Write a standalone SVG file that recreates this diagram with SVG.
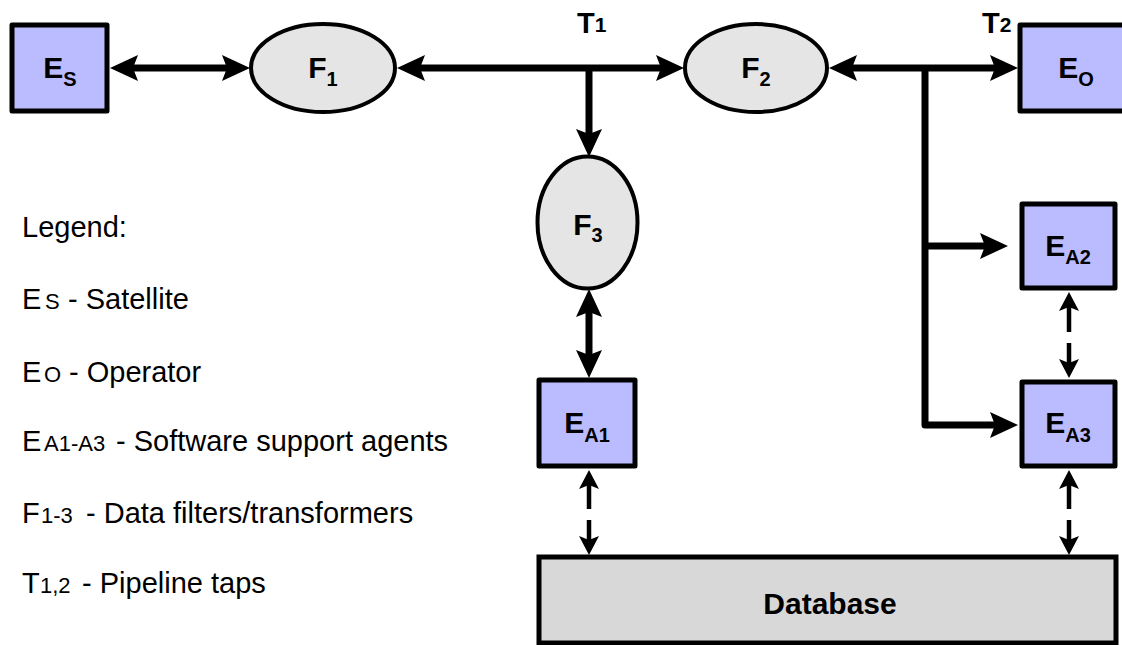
<svg xmlns="http://www.w3.org/2000/svg" width="1122" height="645" viewBox="0 0 1122 645">
<style>
.box{fill:#BBBBFF;stroke:#000;stroke-width:5;stroke-linejoin:round}
.flt{fill:#E5E5E5;stroke:#000;stroke-width:4}
.db{fill:#D8D8D8;stroke:#000;stroke-width:5}
.nl{font-family:"Liberation Sans",Arial,sans-serif;font-weight:bold;font-size:30px;fill:#000;text-anchor:middle}
.sub{font-size:20px}
.tl{font-family:"Liberation Sans",Arial,sans-serif;font-weight:bold;font-size:29px;fill:#000}
.lg{font-family:"Liberation Sans",Arial,sans-serif;font-size:29px;fill:#000}
.lgs{font-family:"Liberation Sans",Arial,sans-serif;font-size:22px;fill:#000}
.thick{fill:none;stroke:#000;stroke-width:7;stroke-linejoin:round}
.thin{fill:none;stroke:#000;stroke-width:4.5}
</style>
<defs>
<marker id="ah" markerUnits="userSpaceOnUse" viewBox="-16 -16 36 32" markerWidth="36" markerHeight="32" refX="0" refY="0" orient="auto-start-reverse">
<path d="M-13,-13 L15,0 L-13,13 L-8,0 z" fill="#000"/>
</marker>
<marker id="as" markerUnits="userSpaceOnUse" viewBox="-12 -12 26 24" markerWidth="26" markerHeight="24" refX="0" refY="0" orient="auto-start-reverse">
<path d="M-9,-10 L10,0 L-9,10 L-5,0 z" fill="#000"/>
</marker>
</defs>

<g id="connectors">
<line class="thick" x1="125" y1="68" x2="235" y2="68" marker-start="url(#ah)" marker-end="url(#ah)"/>
<line class="thick" x1="412" y1="68" x2="669" y2="68" marker-start="url(#ah)" marker-end="url(#ah)"/>
<line class="thick" x1="844" y1="68" x2="1003" y2="68" marker-start="url(#ah)" marker-end="url(#ah)"/>
<line class="thick" x1="589" y1="68" x2="589" y2="142" marker-end="url(#ah)"/>
<line class="thick" x1="589" y1="304" x2="589" y2="363" marker-start="url(#ah)" marker-end="url(#ah)"/>
<path class="thick" d="M925,68 V425 H1003" marker-end="url(#ah)"/>
<path class="thick" d="M925,246 H993" marker-end="url(#ah)"/>
<path class="thin" d="M1069,302 V332 M1069,343 V368" marker-start="url(#as)" marker-end="url(#as)"/>
<path class="thin" d="M589,480 V509 M589,520 V545" marker-start="url(#as)" marker-end="url(#as)"/>
<path class="thin" d="M1069,480 V509 M1069,520 V545" marker-start="url(#as)" marker-end="url(#as)"/>
</g>

<g id="taps">
<text class="tl" x="577" y="33">T<tspan font-size="21" dy="-1">1</tspan></text>
<text class="tl" x="982" y="33">T<tspan font-size="21" dy="-1">2</tspan></text>
</g>

<g id="ES">
<rect class="box" x="12" y="25" width="95" height="86"/>
<text class="nl" x="60" y="78">E<tspan class="sub" dy="8">S</tspan></text>
</g>
<g id="F1">
<ellipse class="flt" cx="323" cy="68" rx="72" ry="44"/>
<text class="nl" x="323" y="78">F<tspan class="sub" dy="8">1</tspan></text>
</g>
<g id="F2">
<ellipse class="flt" cx="756" cy="68" rx="71" ry="44"/>
<text class="nl" x="756" y="78">F<tspan class="sub" dy="8">2</tspan></text>
</g>
<g id="EO">
<rect class="box" x="1020" y="25" width="110" height="86"/>
<text class="nl" x="1076" y="78">E<tspan class="sub" dy="8">O</tspan></text>
</g>
<g id="F3">
<ellipse class="flt" cx="587.5" cy="222.5" rx="50" ry="66"/>
<text class="nl" x="588" y="235">F<tspan class="sub" dy="7">3</tspan></text>
</g>
<g id="EA1">
<rect class="box" x="539" y="380" width="96" height="86"/>
<text class="nl" x="587" y="433">E<tspan class="sub" dy="9">A1</tspan></text>
</g>
<g id="EA2">
<rect class="box" x="1022" y="204" width="93" height="84"/>
<text class="nl" x="1068" y="256">E<tspan class="sub" dy="8">A2</tspan></text>
</g>
<g id="EA3">
<rect class="box" x="1022" y="382" width="93" height="84"/>
<text class="nl" x="1068" y="433">E<tspan class="sub" dy="9">A3</tspan></text>
</g>
<g id="Database">
<rect class="db" x="539" y="557" width="577" height="86"/>
<text class="nl" x="830" y="614" font-size="33">Database</text>
</g>

<g id="legend">
<text class="lg" x="22" y="237">Legend:</text>
<text class="lg" x="22" y="309">E</text><text class="lgs" x="45" y="309">S</text><text class="lg" x="68" y="309">- Satellite</text>
<text class="lg" x="22" y="382">E</text><text class="lgs" x="44" y="382">O</text><text class="lg" x="69" y="382">- Operator</text>
<text class="lg" x="22" y="451">E</text><text class="lgs" x="44" y="451">A1-A3</text><text class="lg" x="116" y="451">- Software support agents</text>
<text class="lg" x="22" y="523">F</text><text class="lgs" x="41" y="523">1-3</text><text class="lg" x="86" y="523">- Data filters/transformers</text>
<text class="lg" x="22" y="593">T</text><text class="lgs" x="40" y="593">1,2</text><text class="lg" x="82" y="593">- Pipeline taps</text>
</g>
</svg>
